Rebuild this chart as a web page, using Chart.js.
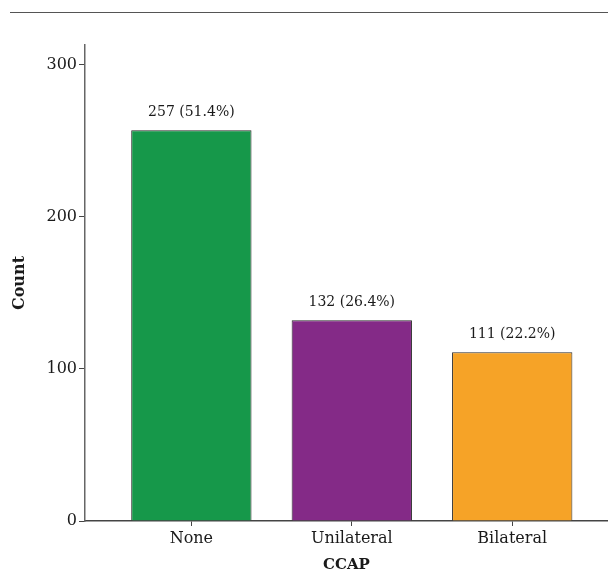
<!DOCTYPE html>
<html>
<head>
<meta charset="utf-8">
<script src="https://cdn.jsdelivr.net/npm/chart.js@4"></script>
<style>
  html, body { margin: 0; padding: 0; background: #fff; }
  #wrap { position: relative; width: 608px; height: 572px; }
  #topline { position: absolute; left: 10px; top: 12px; width: 598px; height: 0; border-top: 1.5px solid #555; }
  canvas { display: block; }
</style>
</head>
<body>
<div id="wrap">
  <canvas id="c" width="608" height="572"></canvas>
  <div id="topline"></div>
</div>
<script>
// ---- data ----
const categories = ['None', 'Unilateral', 'Bilateral'];
const counts = [257, 132, 111];
const percentages = [51.4, 26.4, 22.2];
const barColors = ['#16984A', '#842A87', '#F6A327'];
const yTicks = [0, 100, 200, 300];
const xTitle = 'CCAP';
const yTitle = 'Count';

Chart.defaults.font.family = "'DejaVu Serif', 'Liberation Serif', serif";
Chart.defaults.color = '#1a1a1a';

const valueLabels = {
  id: 'valueLabels',
  afterDatasetsDraw(chart) {
    const ctx = chart.ctx;
    const meta = chart.getDatasetMeta(0);
    ctx.save();
    ctx.font = "14px 'DejaVu Serif', serif";
    ctx.fillStyle = '#1a1a1a';
    ctx.textAlign = 'center';
    ctx.textBaseline = 'alphabetic';
    meta.data.forEach((bar, i) => {
      ctx.fillText(counts[i] + ' (' + percentages[i].toFixed(1) + '%)', bar.x, bar.y - 14);
    });
    ctx.restore();
  }
};

new Chart(document.getElementById('c'), {
  type: 'bar',
  data: {
    datasets: [{
      data: counts.map((v, i) => ({ x: i, y: v })),
      backgroundColor: barColors,
      borderColor: '#2a2a2a',
      borderWidth: 1,
      borderSkipped: 'bottom',
      barPercentage: 0.75,
      categoryPercentage: 1
    }]
  },
  options: {
    responsive: false,
    animation: false,
    layout: { padding: { top: 45, left: 0, right: 0, bottom: 0 } },
    plugins: { legend: { display: false }, tooltip: { enabled: false } },
    scales: {
      x: {
        type: 'linear',
        offset: false,
        min: -0.663,
        max: 2.597,
        afterBuildTicks: (s) => { s.ticks = categories.map((c, i) => ({ value: i })); },
        afterFit: (s) => { s.height = 51; },
        ticks: {
          callback: (v) => categories[v] ?? '',
          font: { size: 16 },
          padding: 3,
          maxRotation: 0,
          autoSkip: false
        },
        grid: { display: true, offset: false, drawOnChartArea: false, drawTicks: true, tickLength: 5, color: '#444', lineWidth: 1 },
        border: { display: true, color: '#444', width: 1.5 },
        title: { display: true, text: xTitle, font: { size: 15, weight: 'bold' }, padding: { top: 0, bottom: -2 } }
      },
      y: {
        min: 0,
        max: 313,
        afterBuildTicks: (s) => { s.ticks = yTicks.map(v => ({ value: v })); },
        afterFit: (s) => { s.width = 85; },
        ticks: { font: { size: 16 }, padding: 2 },
        grid: { display: true, drawOnChartArea: false, drawTicks: true, tickLength: 6, color: '#444', lineWidth: 1 },
        border: { display: true, color: '#666', width: 1.5 },
        title: { display: true, text: yTitle, font: { size: 16, weight: 'bold' }, padding: { top: 10, bottom: 0 } }
      }
    }
  },
  plugins: [valueLabels]
});
</script>
</body>
</html>
